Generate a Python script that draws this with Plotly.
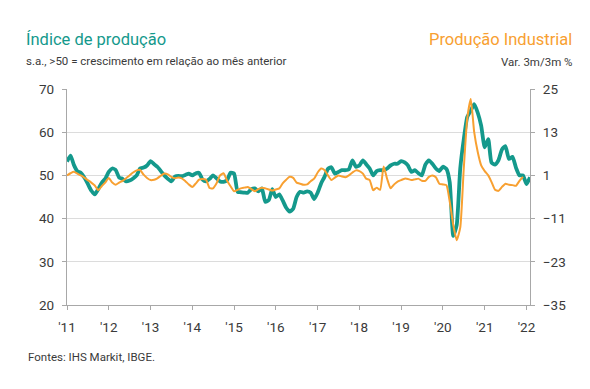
import pandas as pd
import plotly.graph_objects as go

# Monthly data
pmi_start = "2011-01-01"
pmi_output = [
    53.2, 54.6, 52.5, 51.0, 50.6, 49.5, 48.1, 46.5, 45.6, 46.8, 48.3, 49.2,
    50.8, 51.6, 51.3, 49.5, 49.2, 48.6, 48.8, 49.3, 50.0, 51.6, 51.8, 52.3,
    53.3, 52.6, 52.0, 51.0, 50.0, 49.2, 48.6, 49.7, 49.9, 49.8, 50.1, 50.4,
    50.0, 50.5, 50.6, 49.0, 48.6, 49.2, 50.0, 49.3, 48.6, 48.5, 48.9, 50.6,
    50.4, 46.2, 46.1, 46.0, 46.0, 46.8, 47.0, 46.3, 47.0, 43.9, 44.3, 46.8,
    45.0, 45.6, 44.2, 42.5, 41.6, 42.3, 45.0, 46.2, 46.0, 46.3, 46.0, 44.5,
    46.0, 48.2, 49.6, 51.5, 51.9, 50.4, 50.8, 51.2, 51.2, 51.4, 53.5, 52.0,
    52.3, 53.5, 52.6, 51.6, 50.0, 51.0, 51.2, 51.2, 51.6, 52.3, 52.7, 52.7,
    53.3, 53.0, 52.3, 50.8, 51.2, 50.5, 50.0, 52.5, 53.5, 52.7, 51.6, 51.0,
    52.0, 51.5, 48.4, 36.0, 38.5, 51.6, 58.2, 63.5, 65.0, 66.5, 64.5, 61.5,
    56.5, 58.4, 53.0, 52.5, 53.5, 56.0, 56.8, 53.8, 54.3, 51.8, 50.0, 50.0,
    48.0, 49.6,
]
ip_start = "2011-01-01"
ip_3m3m = [
    1.0, 1.6, 2.0, 1.5, 1.0, 0.4, -0.3, -1.0, -1.8, -3.1, -2.0, -1.0,
    0.3, -1.0, -1.6, -1.0, -0.5, 0.2, 1.0, 1.8, 2.4, 2.5, 1.2, 0.3,
    -0.3, -0.2, 0.2, 0.9, 1.5, 1.3, 0.6, 0.2, 0.4, 0.2, -0.6, -1.5,
    -2.2, -1.2, -0.2, 0.0, -0.2, -2.5, -2.6, -1.2, 1.0, 1.6, -0.5, -2.0,
    -3.4, -3.0, -2.6, -2.4, -2.2, -2.8, -3.4, -2.8, -2.4, -2.6, -2.9, -3.2,
    -2.9, -2.6, -1.2, -0.2, 0.6, 0.3, -1.0, -1.3, -1.6, -1.5, -0.6, 0.1,
    1.8, 2.9, 2.5, 1.0, -0.3, 0.4, 1.0, 0.7, 0.5, 1.0, 1.8, 2.4,
    2.2, 1.5, 0.1, -0.3, -3.1, -2.4, -3.0, 3.5, 0.0, -2.6, -1.5, -0.7,
    -0.3, 0.1, 0.0, -0.3, -0.1, 0.1, -0.5, -0.5, 0.6, 1.0, 0.5, -1.3,
    -1.5, -1.7, -6.3, -12.8, -17.0, -13.5, 2.5, 16.7, 22.2, 13.0, 7.5, 3.8,
    2.2, 1.0, -0.8, -3.0, -3.3, -2.2, -1.3, -1.6, -1.7, -1.9, -0.5, 0.6,
]
year_ticks = [f"{y}-01-01" for y in range(2011, 2023)]
year_labels = ["'11", "'12", "'13", "'14", "'15", "'16", "'17", "'18", "'19", "'20", "'21", "'22"]
left_ticks = [20, 30, 40, 50, 60, 70]
right_ticks = [-35, -23, -11, 1, 13, 25]

pmi_dates = pd.date_range(pmi_start, periods=len(pmi_output), freq="MS")
ip_dates = pd.date_range(ip_start, periods=len(ip_3m3m), freq="MS")

TEAL = "#14998C"
ORANGE = "#F8A031"
TXT = "#3a3a3a"
AX = "#a8a8a8"
FONT = "Roboto"

fig = go.Figure()
fig.add_trace(go.Scatter(x=pmi_dates, y=pmi_output, mode="lines",
                         line=dict(color=TEAL, width=3.8, shape="spline", smoothing=0.5),
                         name="Índice de produção", yaxis="y"))
fig.add_trace(go.Scatter(x=ip_dates, y=ip_3m3m, mode="lines",
                         line=dict(color=ORANGE, width=2, shape="spline", smoothing=0.5),
                         name="Produção Industrial", yaxis="y2"))

fig.update_layout(
    width=590, height=389,
    margin=dict(l=59, r=68, t=81, b=92),
    paper_bgcolor="white", plot_bgcolor="white",
    showlegend=False,
    font=dict(family=FONT, size=12, color=TXT),
    xaxis=dict(
        type="date", range=["2011-01-01", "2022-02-01"],
        tickvals=year_ticks, ticktext=year_labels,
        ticks="outside", ticklen=4, tickcolor=AX, tickwidth=1,
        showline=True, linecolor=AX, linewidth=1.3,
        showgrid=False, zeroline=False, ticklabelstandoff=6,
        tickfont=dict(family=FONT, size=13.5, color=TXT),
    ),
    yaxis=dict(
        range=[20, 70], tickvals=left_ticks,
        ticks="outside", ticklen=4, tickcolor=AX,
        showline=True, linecolor=AX, linewidth=1.3,
        showgrid=True, gridcolor="#dcdcdc", gridwidth=1.2,
        zeroline=False, ticklabelstandoff=5,
        tickfont=dict(family=FONT, size=13.5, color=TXT),
    ),
    yaxis2=dict(
        range=[-35, 25], tickvals=right_ticks, overlaying="y", side="right",
        ticks="outside", ticklen=4, tickcolor=AX,
        showline=True, linecolor=AX, linewidth=1.3,
        showgrid=False, zeroline=False, ticklabelstandoff=5,
        tickfont=dict(family=FONT, size=13.5, color=TXT),
    ),
)

W = 590 - 59 - 68
H = 389 - 81 - 92

def px(x):
    return (x - 59) / W

def py(y):
    return (389 - 92 - y) / H

anns = [
    dict(text="Índice de produção", x=px(17), y=py(31), xanchor="left", yanchor="middle",
         font=dict(family=FONT, size=16.5, color=TEAL)),
    dict(text="s.a., >50 = crescimento em relação ao mês anterior", x=px(17), y=py(53),
         xanchor="left", yanchor="middle", font=dict(family=FONT, size=11.5, color=TXT)),
    dict(text="Produção Industrial", x=px(565), y=py(31), xanchor="right", yanchor="middle",
         font=dict(family=FONT, size=16.5, color=ORANGE)),
    dict(text="Var. 3m/3m %", x=px(566), y=py(54), xanchor="right", yanchor="middle",
         font=dict(family=FONT, size=11.5, color=TXT)),
    dict(text="Fontes: IHS Markit, IBGE.", x=px(19), y=py(349), xanchor="left", yanchor="middle",
         font=dict(family=FONT, size=11.5, color=TXT)),
]
for a in anns:
    a.update(xref="paper", yref="paper", showarrow=False, borderpad=0)
    fig.add_annotation(**a)

fig.write_html("out.html")
